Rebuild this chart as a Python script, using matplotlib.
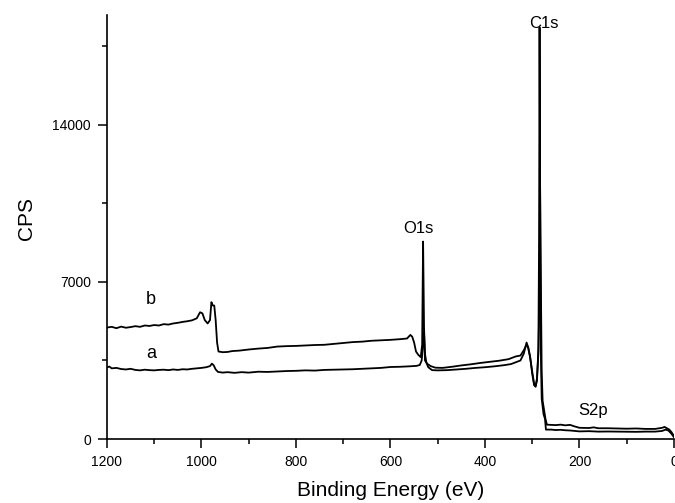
import matplotlib
matplotlib.use("Agg")
import matplotlib.pyplot as plt
from matplotlib.ticker import MultipleLocator

plt.rcParams["font.family"] = ["Liberation Sans", "DejaVu Sans"]

# curve b (upper background, strong O1s)
energy_b = [1200, 1190, 1180, 1170, 1160, 1150, 1140, 1130, 1120, 1110, 1100, 1090,
            1080, 1070, 1060, 1050, 1040, 1030, 1020, 1010, 1003, 998, 993, 987,
            982, 979, 976, 973, 970, 967, 964, 955, 945, 935, 920, 900, 880, 860,
            840, 820, 800, 780, 760, 740, 720, 700, 680, 660, 640, 620, 600, 580,
            565, 558, 554, 550, 546, 541, 536, 533, 531, 529, 527, 522, 515, 505,
            490, 470, 450, 430, 410, 390, 370, 350, 335, 325, 318, 312, 309, 305,
            300, 296, 293, 290, 287, 285, 283.5, 281.5, 280, 278, 275, 272, 269,
            260, 250, 240, 230, 220, 210, 200, 180, 170, 160, 140, 120, 100, 80,
            60, 40, 25, 20, 15, 10, 5, 0]
cps_b = [4970, 5000, 4940, 5010, 4960, 4990, 5030, 5000, 5060, 5040, 5080, 5060,
         5120, 5100, 5150, 5180, 5220, 5250, 5290, 5380, 5650, 5600, 5300, 5150,
         5300, 6100, 5950, 5950, 5300, 4300, 3900, 3870, 3880, 3920, 3940, 3990,
         4030, 4060, 4120, 4140, 4150, 4170, 4190, 4200, 4240, 4280, 4320, 4340,
         4380, 4400, 4420, 4450, 4480, 4640, 4560, 4300, 3900, 3750, 3650, 4200,
         8800, 5000, 3500, 3350, 3250, 3180, 3170, 3220, 3280, 3330, 3390, 3440,
         3490, 3560, 3680, 3720, 3950, 4200, 4100, 3700, 3000, 2450, 2350, 2700,
         3800, 6000, 11670, 6400, 3000, 1700, 1300, 900, 640, 630, 620, 640,
         610, 630, 560, 500, 490, 520, 480, 480, 470, 460, 470, 450, 450, 500,
         540, 480, 420, 300, 120]

# curve a (lower background, strong C1s)
energy_a = [1200, 1195, 1190, 1180, 1170, 1160, 1150, 1140, 1130, 1120, 1110, 1100,
            1090, 1080, 1070, 1060, 1050, 1040, 1030, 1020, 1010, 1000, 990, 982,
            978, 974, 970, 965, 955, 945, 930, 915, 900, 880, 860, 840, 820, 800,
            780, 760, 740, 720, 700, 680, 660, 640, 620, 600, 580, 560, 545, 538,
            534, 531, 529, 527, 524, 520, 512, 500, 480, 460, 440, 420, 400, 380,
            360, 345, 335, 325, 318, 312, 308, 304, 300, 296, 293, 290, 287, 285.5,
            284.5, 283, 281.5, 280, 278, 276, 273, 271, 260, 250, 240, 230, 220,
            210, 200, 180, 160, 140, 120, 100, 80, 60, 40, 25, 18, 12, 6, 0]
cps_a = [3190, 3230, 3150, 3170, 3120, 3100, 3130, 3080, 3060, 3090, 3070, 3060,
         3080, 3090, 3070, 3100, 3080, 3110, 3100, 3130, 3150, 3170, 3200, 3250,
         3360, 3280, 3100, 2990, 2960, 2980, 2950, 2980, 2960, 3000, 2990, 3010,
         3030, 3040, 3060, 3050, 3080, 3090, 3100, 3110, 3130, 3150, 3170, 3210,
         3220, 3240, 3260, 3300, 3500, 4200, 4770, 3800, 3400, 3200, 3070, 3060,
         3070, 3100, 3130, 3170, 3200, 3240, 3290, 3340, 3420, 3500, 3800, 4300,
         4050, 3600, 2900, 2400, 2330, 2600, 4000, 9000, 18350, 9000, 3500, 1800,
         1450, 1100, 900, 420, 420, 400, 410, 390, 380, 360, 340, 350, 330, 335,
         330, 325, 320, 330, 330, 360, 420, 380, 250, 80]

peak_labels = ["O1s", "C1s", "S2p"]
peak_pos = [(540, 9390), (276, 18500), (171, 1290)]
curve_labels = ["b", "a"]
curve_label_pos = [(1107, 6230), (1107, 3830)]

fig = plt.figure(figsize=(6.75, 5.03), dpi=100)
ax = fig.add_axes([0.1585, 0.1272, 0.8400, 0.8430])

ax.plot(energy_b, cps_b, color="black", lw=1.3)
ax.plot(energy_a, cps_a, color="black", lw=1.3)

for txt, (x, y) in zip(peak_labels, peak_pos):
    ax.text(x, y, txt, fontsize=12, ha="center", va="center")
for txt, (x, y) in zip(curve_labels, curve_label_pos):
    ax.text(x, y, txt, fontsize=13, ha="center", va="center")

ax.set_xlim(1200, 0)
ax.set_ylim(0, 18900)
ax.xaxis.set_major_locator(MultipleLocator(200))
ax.xaxis.set_minor_locator(MultipleLocator(100))
ax.set_yticks([0, 7000, 14000])
ax.yaxis.set_minor_locator(MultipleLocator(3500))

ax.spines["top"].set_visible(False)
ax.spines["right"].set_visible(False)
for s in ["left", "bottom"]:
    ax.spines[s].set_linewidth(1.2)

ax.tick_params(which="major", direction="out", length=6.5, width=1.1,
               labelsize=10, pad=5)
ax.tick_params(which="minor", direction="out", length=3.5, width=1.1)

ax.set_xlabel("Binding Energy (eV)", fontsize=15, labelpad=9)
ax.set_ylabel("CPS", fontsize=15)
ax.yaxis.set_label_coords(-0.125, 0.52)

fig.savefig("out.png", dpi=100)
